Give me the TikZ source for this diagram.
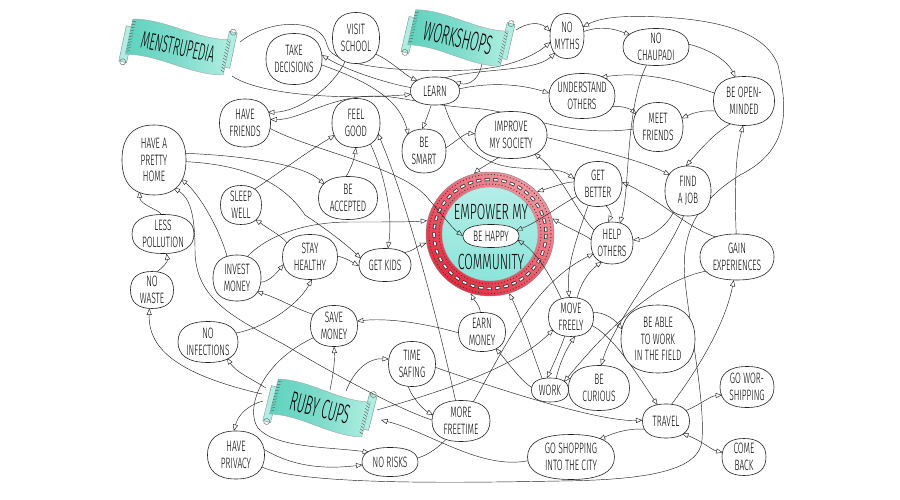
\documentclass[tikz,border=0pt]{standalone}
\usepackage{fontspec}
\usetikzlibrary{shapes.geometric,arrows.meta,calc}
\newfontfamily\handfam{Fira Sans}[UprightFont=* Light, FakeStretch=0.56]
\newfontfamily\banfam{Fira Sans}[UprightFont=* Light, FakeStretch=0.46]
\newcommand\nodefont{\handfam\fontsize{15}{16.5}\selectfont}
\newcommand\hubfont{\handfam\fontsize{22}{24}\selectfont}
\newcommand\banfont{\banfam\fontsize{27}{28}\selectfont}
\definecolor{tealA}{RGB}{95,210,190}
\definecolor{tealB}{RGB}{175,238,226}
\definecolor{ringred}{RGB}{230,45,65}
\definecolor{ringpink}{RGB}{242,150,160}
\definecolor{hubteal}{RGB}{140,228,218}
\definecolor{ink}{RGB}{35,35,35}
\pgfdeclarelayer{art}
\pgfdeclarelayer{lines}
\pgfdeclarelayer{blobs}
\pgfsetlayers{art,lines,blobs,main}

\newcommand\ribbon[7]{%
\begin{scope}[shift={(#1,#2)},rotate=#3]
\pgfmathsetmacro\hw{#4/2}\pgfmathsetmacro\hh{#5/2}
\filldraw[fill=tealB, draw=black!45, line width=0.4pt] (-\hw-5,-\hh+8) rectangle (-\hw+3,\hh+8);
\draw[black!55, line width=0.5pt] (-\hw-1,\hh+8) circle (3);
\filldraw[fill=tealB, draw=black!45, line width=0.4pt] (\hw-3,-\hh-8) rectangle (\hw+5,\hh-8);
\draw[black!55, line width=0.5pt] (\hw+1,-\hh-8) circle (3);
\shade[left color=tealA, right color=tealB, middle color=tealA!80] (-\hw,-\hh) .. controls (-\hw/3,-\hh-7) and (\hw/3,-\hh+7) .. (\hw,-\hh) -- (\hw,\hh) .. controls (\hw/3,\hh+7) and (-\hw/3,\hh-7) .. (-\hw,\hh) -- cycle;
\draw[black!35, line width=0.4pt] (-\hw,-\hh) .. controls (-\hw/3,-\hh-7) and (\hw/3,-\hh+7) .. (\hw,-\hh) -- (\hw,\hh) .. controls (\hw/3,\hh+7) and (-\hw/3,\hh-7) .. (-\hw,\hh) -- cycle;
\foreach \k in {1,...,11}{\draw[black!70, line width=0.35pt] (-\hw,-\hh+\k*#5/12) -- ++(3.5,-1.5); \draw[black!70, line width=0.35pt] (\hw,-\hh+\k*#5/12) -- ++(-3.5,-1.5);}
\node[font=\banfont, text=black, rotate=#3, inner sep=0pt] (#6) at (0,0) {#7};
\end{scope}}

\begin{document}
\begin{tikzpicture}[x=1pt,y=-1pt,
  blob/.style={ellipse, inner sep=-5pt, outer sep=0pt, align=center, font=\nodefont},
  sz/.style 2 args={minimum width=#1pt, minimum height=#2pt},
  squircle/.style={fill=white, draw=ink, line width=0.6pt},
  cn/.style={draw=ink, line width=0.45pt, -{Triangle[open,length=6.5pt,width=5pt]}},
  cnb/.style={draw=ink, line width=0.45pt, {Triangle[open,length=6.5pt,width=5pt]}-{Triangle[open,length=6.5pt,width=5pt]}}]
\useasboundingbox (0,0) rectangle (900,500);
\begin{pgfonlayer}{art}
\fill[white] (0,0) rectangle (900,500);
\shade[top color=ringpink, bottom color=ringred, shading angle=-40] (490,234) ellipse [x radius=64, y radius=62];
\shade[top color=hubteal!65, bottom color=hubteal] (490,234) ellipse [x radius=48, y radius=47];
\draw[black!80, line width=3.2pt, dash pattern=on 5pt off 3.5pt] (490,234) ellipse [x radius=56, y radius=54.5];
\draw[white, line width=1.6pt, dash pattern=on 3.8pt off 4.7pt, dash phase=-0.6pt] (490,234) ellipse [x radius=56, y radius=54.5];
\draw[black!80, line width=0.9pt, dash pattern=on 0.9pt off 2.3pt] (490,234) ellipse [x radius=51, y radius=50];
\draw[black!80, line width=0.9pt, dash pattern=on 0.9pt off 2.3pt] (490,234) ellipse [x radius=61, y radius=59.5];
\draw[black!50, line width=0.4pt] (490,234) ellipse [x radius=64, y radius=62];
\draw[black!40, line width=0.4pt] (490,234) ellipse [x radius=48, y radius=47];
\end{pgfonlayer}

\node[ellipse, minimum width=128pt, minimum height=124pt, inner sep=0pt] (hub) at (490,234) {};
\node[font=\hubfont, inner sep=0pt] (empower) at (491,212) {EMPOWER MY};
\node[font=\hubfont, inner sep=0pt] (community) at (491,262) {COMMUNITY};
\node[blob, sz={56}{23}] (behappy) at (491,236) {BE HAPPY};

\node[blob, sz={47}{51}] (visit) at (356,38) {VISIT\\SCHOOL};
\node[blob, sz={56}{51}] (take) at (294,59) {TAKE\\DECISIONS};
\node[blob, sz={49}{28}] (learn) at (435,91) {LEARN};
\node[blob, sz={34}{45}] (nomyths) at (567,36) {NO\\MYTHS};
\node[blob, sz={66}{37}] (chaupadi) at (656,47) {NO\\CHAUPADI};
\node[blob, sz={66}{45}] (understand) at (582,96) {UNDERSTAND\\OTHERS};
\node[blob, sz={61}{49}] (openminded) at (744,101) {BE OPEN-\\MINDED};
\node[blob, sz={50}{49}] (meet) at (658,127) {MEET\\FRIENDS};
\node[blob, sz={51}{48}] (havefriends) at (245,123) {HAVE\\FRIENDS};
\node[blob, sz={48}{49}] (feelgood) at (356,123) {FEEL\\GOOD};
\node[blob, sz={44}{44}] (smart) at (424,151) {BE\\SMART};
\node[blob, sz={72}{47}] (improve) at (511,135) {IMPROVE\\MY SOCIETY};
\node[blob, sz={64}{70}] (pretty) at (154,160) {HAVE A\\PRETTY\\HOME};
\node[blob, sz={59}{43}] (accepted) at (348,198) {BE\\ACCEPTED};
\node[blob, sz={48}{45}] (better) at (598,184) {GET\\BETTER};
\node[blob, sz={46}{50}] (findjob) at (688,191) {FIND\\A JOB};
\node[blob, sz={41}{39}] (sleep) at (241,205) {SLEEP\\WELL};
\node[blob, sz={62}{39}] (pollution) at (163,234) {LESS\\POLLUTION};
\node[blob, sz={42}{42}] (help) at (612,243) {HELP\\OTHERS};
\node[blob, sz={74}{46}] (gain) at (737,257) {GAIN\\EXPERIENCES};
\node[blob, sz={55}{45}] (healthy) at (310,257) {STAY\\HEALTHY};
\node[blob, sz={52}{33}] (getkids) at (385,265) {GET KIDS};
\node[blob, sz={48}{46}] (invest) at (237,278) {INVEST\\MONEY};
\node[blob, sz={43}{37}] (nowaste) at (152,290) {NO\\WASTE};
\node[blob, sz={47}{41}] (savemoney) at (334,326) {SAVE\\MONEY};
\node[blob, sz={60}{41}] (infections) at (208,342) {NO\\INFECTIONS};
\node[blob, sz={47}{39}] (earn) at (482,332) {EARN\\MONEY};
\node[blob, sz={45}{39}] (freely) at (571,317) {MOVE\\FREELY};
\node[blob, sz={74}{68}] (fieldwork) at (658,339) {BE ABLE\\TO WORK\\IN THE FIELD};
\node[blob, sz={47}{45}] (timesafing) at (412,364) {TIME\\SAFING};
\node[blob, sz={37}{24}] (work) at (550,390) {WORK};
\node[blob, sz={61}{45}] (curious) at (599,388) {BE\\CURIOUS};
\node[blob, sz={54}{41}] (worship) at (747,387) {GO WOR-\\SHIPPING};
\node[blob, sz={58}{41}] (freetime) at (461,421) {MORE\\FREETIME};
\node[blob, sz={47}{34}] (travel) at (666,421) {TRAVEL};
\node[blob, sz={57}{48}] (privacy) at (236,455) {HAVE\\PRIVACY};
\node[blob, sz={56}{29}] (norisks) at (390,462) {NO RISKS};
\node[blob, sz={87}{45}] (shopping) at (571,457) {GO SHOPPING\\INTO THE CITY};
\node[blob, sz={44}{37}] (comeback) at (744,457) {COME\\BACK};

\begin{pgfonlayer}{blobs}
\foreach \n in {behappy,visit,take,learn,nomyths,chaupadi,understand,openminded,meet,havefriends,feelgood,smart,improve,pretty,accepted,better,findjob,sleep,pollution,help,gain,healthy,getkids,invest,nowaste,savemoney,infections,earn,freely,fieldwork,timesafing,work,curious,worship,freetime,travel,privacy,norisks,shopping,comeback}{
\coordinate (cNE) at (\n.east |- \n.north);
\coordinate (cSE) at (\n.east |- \n.south);
\coordinate (cSW) at (\n.west |- \n.south);
\coordinate (cNW) at (\n.west |- \n.north);
\path[squircle] (\n.north) .. controls ($(\n.north)!0.66!(cNE)$) and ($(\n.east)!0.66!(cNE)$) .. (\n.east) .. controls ($(\n.east)!0.66!(cSE)$) and ($(\n.south)!0.66!(cSE)$) .. (\n.south) .. controls ($(\n.south)!0.66!(cSW)$) and ($(\n.west)!0.66!(cSW)$) .. (\n.west) .. controls ($(\n.west)!0.66!(cNW)$) and ($(\n.north)!0.66!(cNW)$) .. (\n.north) -- cycle;}
\end{pgfonlayer}

\ribbon{178}{47}{-12}{100}{36}{mens}{{\fontsize{24}{26}\selectfont MENSTRUPEDIA}}
\ribbon{458}{38}{-13}{95}{36}{works}{WORKSHOPS}
\ribbon{320}{408}{-14}{95}{36}{ruby}{RUBY CUPS}

\coordinate (mensR) at (240,42);
\coordinate (mensB) at (232,76);
\coordinate (wsR) at (516,30);
\coordinate (wsB) at (482,63);
\coordinate (rubyL1) at (266,388);
\coordinate (rubyL2) at (262,394);
\coordinate (rubyL3) at (263,401);
\coordinate (rubyT1) at (330,390);
\coordinate (rubyT2) at (346,391);
\coordinate (rubyR) at (377,410);
\coordinate (rubyR2) at (381,420);

\begin{pgfonlayer}{lines}
\draw[cn] (wsR) .. controls (528,22) and (540,22) .. (nomyths.165);
\draw[cn] (wsB) .. controls (480,78) and (470,86) .. (learn.25);
\draw[cn] (learn.55) .. controls (480,68) and (535,72) .. (nomyths.235);
\draw[cn] (mensR) .. controls (270,18) and (322,18) .. (327,45) .. controls (332,70) and (420,72) .. (470,70) .. controls (510,68) and (535,55) .. (nomyths.200);
\draw[cn] (nomyths.15) .. controls (600,26) and (612,28) .. (chaupadi.155);
\draw[cn] (chaupadi.5) .. controls (712,50) and (728,62) .. (openminded.110);
\draw[cn] (privacy.-25) .. controls (300,485) and (450,483) .. (560,481) .. controls (650,480) and (700,470) .. (702,440) .. controls (705,400) and (690,330) .. (685,280) .. controls (680,230) and (700,200) .. (740,175) .. controls (790,150) and (788,110) .. (778,65) .. controls (765,32) and (720,20) .. (660,17) .. controls (620,15) and (600,18) .. (nomyths.30);
\draw[cn] (openminded.165) .. controls (690,85) and (650,70) .. (understand.45);
\draw[cn] (openminded.200) .. controls (705,110) and (695,112) .. (meet.20);
\draw[cn] (openminded.240) .. controls (712,135) and (700,150) .. (findjob.95);
\draw[cn] (understand.-20) .. controls (622,105) and (632,110) .. (meet.150);
\draw[cn] (learn.5) .. controls (490,82) and (520,84) .. (understand.175);
\draw[cn] (learn.-105) .. controls (429,112) and (426,120) .. (smart.95);
\draw[cn] (visit.-40) .. controls (390,60) and (405,75) .. (learn.150);
\draw[cn] (learn.172) .. controls (390,84) and (350,72) .. (take.8);
\draw[cn] (take.-12) .. controls (370,82) and (400,100) .. (smart.135);
\draw[cn] (mensB) .. controls (260,95) and (340,100) .. (learn.188);
\draw[cn] (visit.-115) .. controls (335,85) and (300,112) .. (havefriends.25);
\draw[cn] (meet.185) .. controls (560,138) and (520,110) .. (470,108) .. controls (420,104) and (400,96) .. (375,96) .. controls (330,96) and (300,120) .. (havefriends.8);
\draw[cn] (havefriends.-12) .. controls (310,150) and (395,165) .. (425,195) .. controls (440,212) and (452,228) .. (behappy.180);
\draw[cn] (accepted.95) .. controls (351,168) and (354,160) .. (feelgood.-90);
\draw[cn] (feelgood.-55) .. controls (385,175) and (393,215) .. (getkids.80);
\draw[cn] (freetime.105) .. controls (440,330) and (410,210) .. (feelgood.-25);
\draw[cn] (sleep.50) .. controls (280,172) and (310,150) .. (feelgood.-150);
\draw[cn] (pretty.12) .. controls (230,155) and (300,162) .. (accepted.150);
\draw[cn] (pretty.-3) .. controls (250,165) and (285,185) .. (305,215) .. controls (335,235) and (350,248) .. (getkids.165);
\draw[cn] (pollution.95) .. controls (160,210) and (140,205) .. (pretty.-115);
\draw[cn] (nowaste.75) .. controls (162,268) and (168,262) .. (pollution.-80);
\draw[cn] (invest.115) .. controls (220,230) and (200,195) .. (pretty.-35);
\draw[cn] (freetime.178) .. controls (400,410) and (330,372) .. (285,345) .. controls (235,318) and (195,300) .. (195,250) .. controls (195,215) and (190,198) .. (pretty.-55);
\draw[cn] (healthy.150) .. controls (285,238) and (270,230) .. (sleep.-45);
\draw[cn] (invest.-10) .. controls (268,282) and (275,275) .. (healthy.-165);
\draw[cn] (healthy.2) .. controls (346,258) and (352,262) .. (getkids.182);
\draw[cn] (invest.65) .. controls (265,238) and (300,222) .. (350,222) .. controls (390,222) and (410,222) .. (hub.168);
\draw[cn] (getkids.35) .. controls (412,252) and (418,246) .. (hub.188);
\draw[cn] (savemoney.150) .. controls (298,310) and (278,298) .. (invest.-35);
\draw[cn] (infections.18) .. controls (265,328) and (298,305) .. (healthy.-85);
\draw[cn] (rubyL1) .. controls (250,378) and (236,372) .. (infections.-40);
\draw[cn] (rubyL2) .. controls (180,375) and (148,350) .. (nowaste.-98);
\draw[cn] (rubyL3) .. controls (248,405) and (238,415) .. (privacy.95);
\draw[cn] (rubyT1) .. controls (333,375) and (335,362) .. (savemoney.-90);
\draw[cn] (rubyT2) .. controls (355,368) and (370,358) .. (timesafing.168);
\draw[cn] (privacy.12) .. controls (290,465) and (320,470) .. (norisks.186);
\draw[cn] (savemoney.-150) .. controls (260,362) and (245,410) .. (258,428) .. controls (275,448) and (330,447) .. (norisks.155);
\draw[cn] (earn.182) .. controls (420,322) and (385,318) .. (savemoney.12);
\draw[cn] (timesafing.-100) .. controls (412,398) and (424,410) .. (freetime.168);
\draw[cn] (timesafing.-8) .. controls (500,390) and (600,422) .. (travel.178);
\draw[cn] (rubyR) .. controls (440,392) and (515,368) .. (freely.-145);
\draw[cn] (work.62) .. controls (560,362) and (566,350) .. (freely.-78);
\draw[cn] (freely.-108) .. controls (560,350) and (553,365) .. (work.105);
\draw[cn] (gain.205) .. controls (660,280) and (615,320) .. (work.30);
\draw[cn] (work.172) .. controls (522,382) and (510,365) .. (earn.-50);
\draw[cn] (earn.95) .. controls (480,305) and (474,300) .. (hub.-108);
\draw[cn] (work.125) .. controls (530,345) and (520,315) .. (hub.-72);
\draw[cn] (freely.118) .. controls (555,285) and (540,255) .. (behappy.-8);
\draw[cn] (freely.12) .. controls (605,312) and (615,320) .. (fieldwork.165);
\draw[cn] (freely.-22) .. controls (612,335) and (636,372) .. (travel.118);
\draw[cn] (freely.72) .. controls (580,285) and (588,272) .. (help.-118);
\draw[cn] (norisks.8) .. controls (480,440) and (500,300) .. (help.-150);
\draw[cn] (better.175) .. controls (566,182) and (556,186) .. (hub.42);
\draw[cn] (better.-150) .. controls (560,205) and (538,222) .. (behappy.12);
\draw[cn] (better.-70) .. controls (610,210) and (612,214) .. (help.100);
\draw[cn] (better.-115) .. controls (578,235) and (566,265) .. (freely.95);
\draw[cn] (chaupadi.-118) .. controls (625,110) and (630,190) .. (help.68);
\draw[cn] (learn.-55) .. controls (455,140) and (478,166) .. (520,168) .. controls (545,170) and (560,168) .. (better.168);
\draw[cn] (improve.-118) .. controls (486,165) and (478,170) .. (hub.105);
\draw[cn] (smart.8) .. controls (455,142) and (465,133) .. (improve.178);
\draw[cn] (help.145) .. controls (578,215) and (562,175) .. (improve.-38);
\draw[cn] (improve.-4) .. controls (590,148) and (640,160) .. (findjob.138);
\draw[cn] (gain.135) .. controls (690,230) and (660,200) .. (better.5);
\draw[cn] (gain.92) .. controls (735,205) and (734,160) .. (openminded.-92);
\draw[cn] (findjob.-125) .. controls (668,225) and (650,238) .. (help.8);
\draw[cn] (findjob.-100) .. controls (665,260) and (615,320) .. (curious.85);
\draw[cn] (help.172) .. controls (588,236) and (572,230) .. (hub.14);
\draw[cn] (travel.-158) .. controls (630,428) and (616,432) .. (shopping.32);
\draw[cn] (travel.28) .. controls (700,405) and (710,396) .. (worship.-162);
\draw[cnb] (travel.-38) .. controls (700,440) and (712,450) .. (comeback.168);
\draw[cn] (travel.72) .. controls (690,380) and (724,330) .. (gain.-98);
\draw[cn] (shopping.185) .. controls (480,470) and (430,432) .. (rubyR2);
\end{pgfonlayer}
\end{tikzpicture}
\end{document}
